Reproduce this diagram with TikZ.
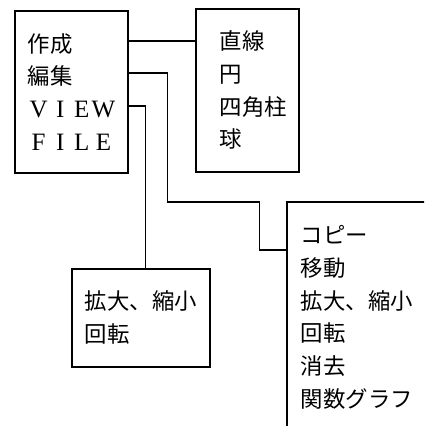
\documentclass[tikz,border=0pt]{standalone}
\usepackage{fontspec}
\setmainfont{Noto Sans CJK JP}
\newfontfamily\latinserif{Liberation Serif}
% wide serif letters for the menu words
\newcommand{\zenkaku}[1]{\makebox[10.8pt]{\latinserif\fontsize{12.5pt}{16pt}\selectfont #1}}

\tikzset{
  menubox/.style={draw, line width=0.8pt, anchor=north west, align=left,
    inner ysep=0pt, font=\fontsize{11.2pt}{16.35pt}\selectfont},
  link/.style={line width=0.8pt}
}

\begin{document}
\begin{tikzpicture}[x=0.5pt, y=-0.5pt]
\useasboundingbox (0,0) rectangle (424,426);
\clip (0,0) rectangle (424,426);

\node[menubox, text width=43.5pt, inner xsep=6.5pt, minimum height=81pt] (menu) at (14,10)
  {作成\\編集\\\zenkaku{V}\zenkaku{I}\zenkaku{E}\zenkaku{W}\\\zenkaku{F}\zenkaku{I}\zenkaku{L}\zenkaku{E}};
\node[menubox, text width=27.5pt, inner xsep=12pt, minimum height=81.5pt] (shape) at (195,8)
  {直線\\円\\四角柱\\球};
\node[menubox, text width=56pt, inner xsep=6.5pt, minimum height=49pt] (view) at (71,268)
  {拡大、縮小\\回転};
\node[menubox, text width=70pt, inner xsep=7pt, minimum height=115.5pt] (edit) at (286,201)
  {コピー\\移動\\拡大、縮小\\回転\\消去\\関数グラフ};

% links from the main menu
\draw[link] (menu.north east) ++(0,31) coordinate (c1) -- (c1 -| shape.west);
\draw[link] (menu.north east) ++(0,63) -- ++(39,0) -- ++(0,129) -- ++(92,0) -- ++(0,48)
  coordinate (c2) -- (c2 -| edit.west);
\draw[link] (menu.north east) ++(0,96) -- ++(17,0) coordinate (c3) -- (c3 |- view.north);

\end{tikzpicture}
\end{document}
